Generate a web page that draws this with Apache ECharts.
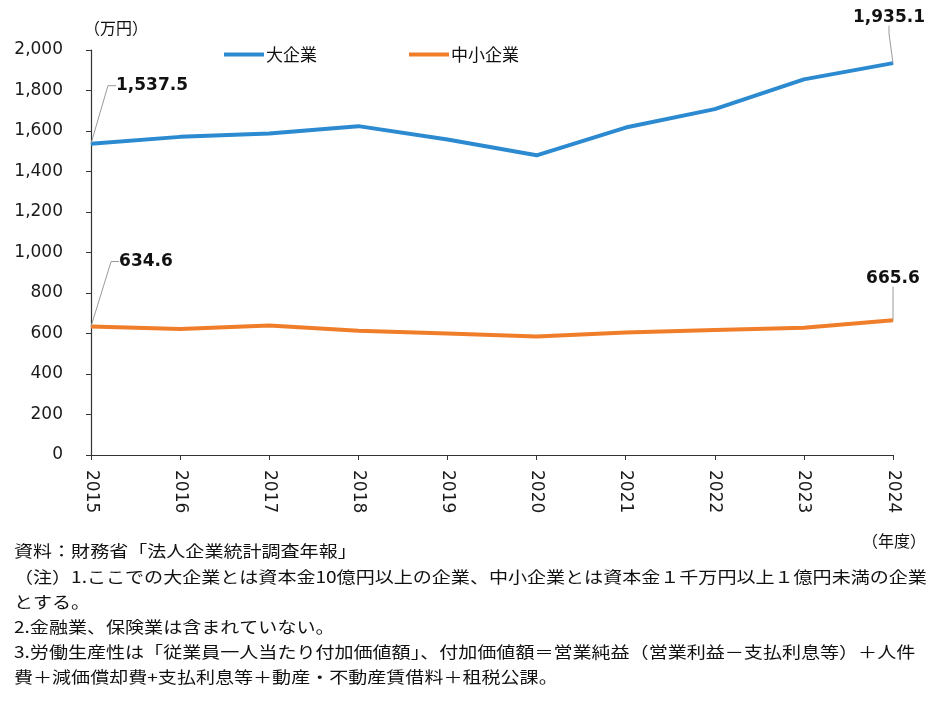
<!DOCTYPE html>
<html>
<head>
<meta charset="utf-8">
<script src="https://cdn.jsdelivr.net/npm/echarts@6/dist/echarts.min.js"></script>
<style>
  html, body { margin: 0; padding: 0; background: #fff; }
  #chart { width: 940px; height: 706px; }
</style>
</head>
<body>
<div id="chart"></div>
<script>
// ----------data----------
const years = ['2015', '2016', '2017', '2018', '2019', '2020', '2021', '2022', '2023', '2024'];
const largeName = '大企業';
const smallName = '中小企業';
const largeValues = [1537.5, 1571, 1588, 1624, 1558, 1480, 1617, 1708, 1855, 1935.1];
const smallValues = [634.6, 622, 639, 614, 600, 585, 605, 617, 628, 665.6];
const yUnit = '（万円）';
const xUnit = '（年度）';
const notes = [
  '資料：財務省「法人企業統計調査年報」',
  '（注）1.ここでの大企業とは資本金10億円以上の企業、中小企業とは資本金１千万円以上１億円未満の企業',
  'とする。',
  '2.金融業、保険業は含まれていない。',
  '3.労働生産性は「従業員一人当たり付加価値額」、付加価値額＝営業純益（営業利益－支払利息等）＋人件',
  '費＋減価償却費+支払利息等＋動産・不動産賃借料＋租税公課。'
];
// ------------------------

const NUM_FONT = "'DejaVu Sans', Verdana, sans-serif";
const JP_FONT = "'Noto Sans CJK JP', sans-serif";
const BLUE = '#2b8ad0';
const ORANGE = '#f07d2a';

const chart = echarts.init(document.getElementById('chart'));

// 端点だけラベルを出す
const lastIdx = years.length - 1;
const toItems = (vals) => vals.map((v, i) => ({
  value: v,
  label: { show: i === 0 || i === lastIdx }
}));

// ラベルの位置ずらし (series, dataIndex) -> px offset
const labelShift = {
  0: { 0: { dx: 61, dy: -44 }, [lastIdx]: { dx: -4, dy: -32 } },
  1: { 0: { dx: 55, dy: -51 }, [lastIdx]: { dx: 0, dy: -28 } }
};

const numFmt = (p) => p.value.toLocaleString('en-US', { minimumFractionDigits: 1, maximumFractionDigits: 1 });

const makeSeries = (name, vals, color, idx) => ({
  name,
  type: 'line',
  data: toItems(vals),
  symbol: 'circle',
  symbolSize: 1,
  showSymbol: true,
  itemStyle: { color },
  lineStyle: { color, width: 4 },
  label: {
    position: 'top',
    distance: 5,
    fontFamily: NUM_FONT,
    fontSize: 17,
    fontWeight: 'bold',
    color: '#111',
    formatter: numFmt
  },
  labelLine: {
    show: true,
    length2: 8,
    lineStyle: { color: '#9a9a9a', width: 1 }
  },
  labelLayout: (params) => labelShift[idx][params.dataIndex] || {},
  emphasis: { disabled: true },
  z: 3 - idx
});

const noteGraphics = notes.map((t, i) => ({
  type: 'text',
  x: 14,
  y: [551, 577, 602, 627, 652, 677][i],
  scaleX: 1.19,
  style: {
    text: t,
    fontFamily: JP_FONT,
    fontSize: 16,
    fill: '#111',
    verticalAlign: 'middle'
  }
}));

const option = {
  backgroundColor: '#fff',
  animation: false,
  grid: { left: 91, right: 47, top: 50, bottom: 251, outerBoundsMode: 'none' },
  legend: {
    left: 219,
    top: 41,
    icon: 'rect',
    itemWidth: 40,
    itemHeight: 4,
    itemGap: 92,
    textStyle: { fontFamily: JP_FONT, fontSize: 17, color: '#111', padding: [0, 0, 0, -3] },
    data: [largeName, smallName]
  },
  xAxis: {
    type: 'category',
    data: years,
    boundaryGap: false,
    axisLine: { lineStyle: { color: '#333', width: 1.2 } },
    axisTick: { show: true, length: 5, inside: false, lineStyle: { color: '#333' } },
    axisLabel: {
      rotate: -90,
      margin: 15,
      fontFamily: NUM_FONT,
      fontSize: 17,
      color: '#1a1a1a'
    },
    splitLine: { show: false }
  },
  yAxis: {
    type: 'value',
    min: 0,
    max: 2000,
    interval: 200,
    axisLine: { show: true, lineStyle: { color: '#333', width: 1.2 } },
    axisTick: { show: true, length: 5, lineStyle: { color: '#333' } },
    axisLabel: {
      margin: 28,
      fontFamily: NUM_FONT,
      fontSize: 17,
      color: '#1a1a1a',
      formatter: (v) => v.toLocaleString('en-US')
    },
    splitLine: { show: false }
  },
  series: [
    makeSeries(largeName, largeValues, BLUE, 0),
    makeSeries(smallName, smallValues, ORANGE, 1)
  ],
  graphic: [
    {
      type: 'text',
      x: 84,
      y: 28,
      style: { text: yUnit, fontFamily: JP_FONT, fontSize: 16, fill: '#111', verticalAlign: 'middle' }
    },
    {
      type: 'text',
      x: 926,
      y: 541,
      style: { text: xUnit, fontFamily: JP_FONT, fontSize: 16, fill: '#111', align: 'right', verticalAlign: 'middle' }
    },
    ...noteGraphics
  ]
};

chart.setOption(option);
</script>
</body>
</html>
